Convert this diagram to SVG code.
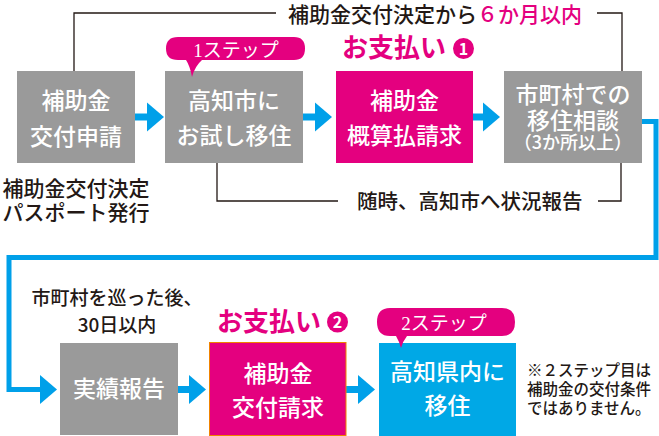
<svg xmlns="http://www.w3.org/2000/svg" width="659" height="436" viewBox="0 0 659 436">
<style>
text{font-family:"Noto Sans CJK JP","Noto Sans",sans-serif;}
.bx{fill:#9a9a9a;}
.pk{fill:#e4007f;}
.bl{fill:#00a8e6;}
.wt{fill:#fff;font-size:23px;font-weight:500;text-anchor:middle;}
.bk{fill:#231815;font-weight:500;}
.ln{fill:none;stroke:#231815;stroke-width:1.3;}
.ar{fill:#00a0e9;}
.sh{stroke:#00a0e9;stroke-width:7;}
.pay{fill:#e4007f;font-size:26px;font-weight:bold;}
.bub{fill:#fff;font-size:19px;text-anchor:middle;font-family:"Liberation Serif","Noto Sans CJK JP",serif;}
</style>
<defs>
<polygon id="ah" points="0,-14.5 17,0 0,14.5"/>
</defs>

<g id="connectors">
  <polyline class="ln" points="74,71 74,13 276,13"/>
  <polyline class="ln" points="597,13 622,13 622,71"/>
  <polyline class="ln" points="217,163 217,201 338,201"/>
  <polyline class="ln" points="598,201 621,201 621,163"/>
  <line class="sh" x1="135" y1="117" x2="148" y2="117"/>
  <use href="#ah" class="ar" x="147" y="117"/>
  <line class="sh" x1="303" y1="117" x2="316" y2="117"/>
  <use href="#ah" class="ar" x="315" y="117"/>
  <line class="sh" x1="473" y1="117" x2="484" y2="117"/>
  <use href="#ah" class="ar" x="483" y="117"/>
  <polyline fill="none" stroke="#00a0e9" stroke-width="5" points="642,121.5 656,121.5 656,257.5 9,257.5 9,389.5 41,389.5"/>
  <use href="#ah" class="ar" x="40" y="389.5"/>
  <line class="sh" x1="178" y1="389.5" x2="190" y2="389.5"/>
  <use href="#ah" class="ar" x="189" y="389.5"/>
  <line class="sh" x1="346" y1="389.5" x2="359" y2="389.5"/>
  <use href="#ah" class="ar" x="358" y="389.5"/>
</g>

<g id="label-top">
  <text class="bk" x="288" y="22" font-size="21">補助金交付決定から<tspan fill="#e4007f">６か月以内</tspan></text>
</g>
<g id="label-report">
  <text class="bk" x="357" y="209" font-size="20.5">随時、高知市へ状況報告</text>
</g>
<g id="label-passport">
  <text class="bk" x="76" y="196" font-size="21" text-anchor="middle">補助金交付決定</text>
  <text class="bk" x="76" y="220" font-size="21" text-anchor="middle">パスポート発行</text>
</g>
<g id="label-30days">
  <text class="bk" x="117" y="305" font-size="19" text-anchor="middle">市町村を巡った後、</text>
  <text class="bk" x="117" y="332" font-size="19" text-anchor="middle">30日以内</text>
</g>

<g id="node-apply">
  <rect class="bx" x="17" y="71" width="118" height="92"/>
  <text class="wt" x="76" y="109">補助金</text>
  <text class="wt" x="76" y="145">交付申請</text>
</g>

<g id="node-trial">
  <rect class="bx" x="165" y="71" width="138" height="92"/>
  <text class="wt" x="234" y="109">高知市に</text>
  <text class="wt" x="234" y="144">お試し移住</text>
  <path class="pk" d="M178,37 H294 Q305,37 305,48.5 Q305,60 294,60 H202 Q195,66 192,77 Q190,66 186,60 H178 Q166,60 166,48.5 Q166,37 178,37 Z"/>
  <text class="bub" x="236" y="57">1ステップ</text>
</g>

<g id="node-pay1">
  <text class="pay" x="342" y="57">お支払い</text>
  <circle class="pk" cx="463.5" cy="48.5" r="10.5"/>
  <text x="463.5" y="54.5" fill="#fff" font-size="16" font-weight="bold" text-anchor="middle">1</text>
  <rect class="pk" x="336" y="71" width="137" height="92"/>
  <text class="wt" x="404.5" y="109">補助金</text>
  <text class="wt" x="404.5" y="144">概算払請求</text>
</g>

<g id="node-consult">
  <rect class="bx" x="504" y="71" width="138" height="92"/>
  <text class="wt" x="573" y="103">市町村での</text>
  <text class="wt" x="573" y="129">移住相談</text>
  <text class="wt" x="573" y="149" style="font-size:18px">（3か所以上）</text>
</g>

<g id="node-result">
  <rect class="bx" x="60" y="343" width="118" height="92"/>
  <text class="wt" x="119" y="397">実績報告</text>
</g>

<g id="node-pay2">
  <text class="pay" x="217" y="331">お支払い</text>
  <circle class="pk" cx="337.5" cy="322" r="10.5"/>
  <text x="337.5" y="328" fill="#fff" font-size="16" font-weight="bold" text-anchor="middle">2</text>
  <rect class="pk" x="209.5" y="342.5" width="136.5" height="93" stroke="#f08300" stroke-width="1"/>
  <text class="wt" x="278" y="382">補助金</text>
  <text class="wt" x="278" y="416">交付請求</text>
</g>

<g id="node-move">
  <rect class="bl" x="379" y="343" width="137" height="93"/>
  <text class="wt" x="447.5" y="380">高知県内に</text>
  <text class="wt" x="447.5" y="414">移住</text>
  <path class="pk" d="M390,308 H502 Q515,308 515,322 Q515,336 502,336 H407 Q403,341 401,348 Q399,341 396,336 H390 Q377,336 377,322 Q377,308 390,308 Z"/>
  <text class="bub" x="444" y="330">2ステップ</text>
</g>

<g id="note">
  <text class="bk" x="527" y="376" font-size="15.5">※２ステップ目は</text>
  <text class="bk" x="527" y="395" font-size="15.5">補助金の交付条件</text>
  <text class="bk" x="527" y="414" font-size="15.5">ではありません。</text>
</g>
</svg>
